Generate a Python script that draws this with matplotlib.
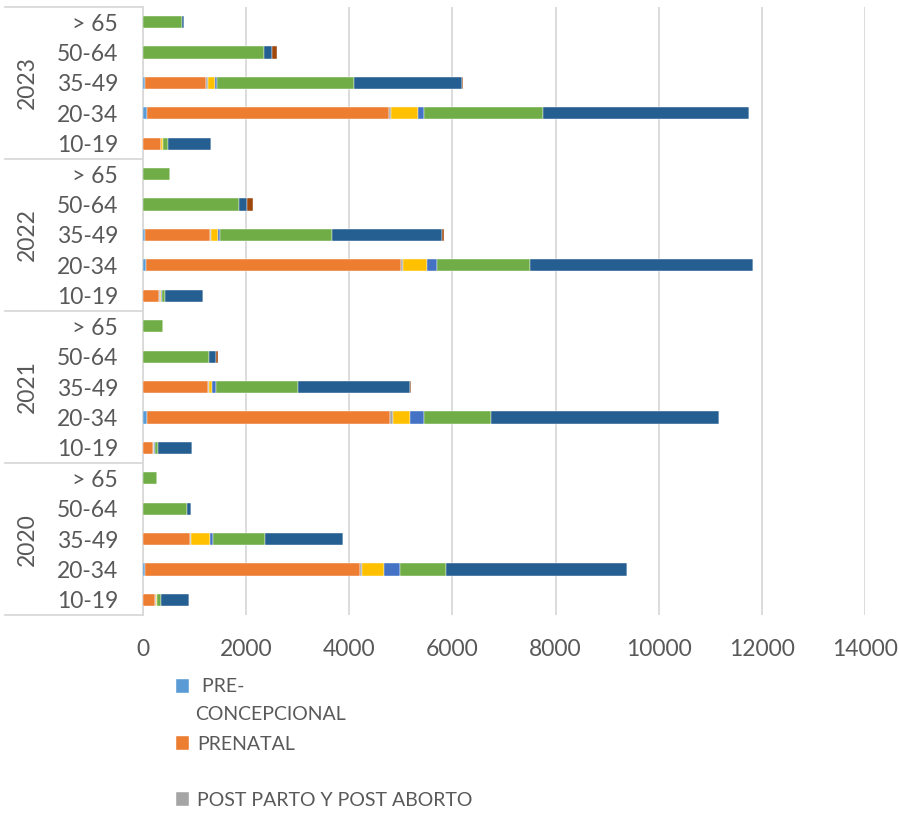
import matplotlib
matplotlib.use("Agg")
import matplotlib.pyplot as plt
import matplotlib.transforms as mtransforms
from matplotlib import font_manager
import numpy as np

# ---------------- data ----------------
years = ["2020", "2021", "2022", "2023"]
ages = ["10-19", "20-34", "35-49", "50-64", "> 65"]

series_names = ["PRE-CONCEPCIONAL", "PRENATAL", "POST PARTO Y POST ABORTO",
                "SERIE 4", "SERIE 5", "SERIE 6", "SERIE 7", "SERIE 8"]
series_colors = ["#5B9BD5", "#ED7D31", "#A5A5A5", "#FFC000",
                 "#4472C4", "#70AD47", "#255E91", "#9E480E"]

# rows: 2020(10-19..>65), 2021(...), 2022(...), 2023(...)
pre_concepcional = [0, 40, 0, 0, 0,   0, 84, 0, 0, 0,   0, 65, 30, 0, 0,   0, 84, 45, 0, 0]
prenatal         = [230, 4174, 913, 0, 0,   188, 4713, 1256, 0, 0,   305, 4932, 1278, 0, 0,   343, 4680, 1178, 0, 0]
post_parto       = [15, 33, 25, 0, 0,   20, 44, 19, 0, 0,   20, 46, 19, 0, 0,   10, 46, 33, 0, 0]
serie4           = [20, 427, 357, 0, 0,   0, 338, 71, 0, 0,   20, 459, 130, 0, 0,   29, 517, 142, 0, 0]
serie5           = [0, 303, 64, 0, 0,   19, 264, 78, 0, 0,   20, 208, 45, 0, 0,   10, 130, 39, 0, 0]
serie6           = [78, 893, 1004, 848, 272,   64, 1309, 1586, 1288, 394,   55, 1800, 2169, 1871, 530,   93, 2305, 2655, 2344, 763]
serie7           = [556, 3523, 1515, 78, 0,   654, 4420, 2175, 130, 0,   745, 4323, 2123, 142, 0,   842, 3981, 2097, 167, 37]
serie8           = [0, 0, 0, 0, 0,   0, 0, 15, 33, 0,   0, 0, 52, 117, 0,   0, 0, 19, 85, 0]

x_ticks = [0, 2000, 4000, 6000, 8000, 10000, 12000, 14000]

# ---------------- style ----------------
avail = {f.name for f in font_manager.fontManager.ttflist}
fam = "Liberation Sans Narrow" if "Liberation Sans Narrow" in avail else "Lato"
plt.rcParams["font.family"] = [fam, "DejaVu Sans"]
txt_color = "#595959"
grid_color = "#D9D9D9"
fs_axis = 16.5
fs_leg = 14

fig = plt.figure(figsize=(8.99, 8.14), dpi=100)
ax = fig.add_axes([143 / 899, 1 - 615.2 / 814, (865 - 143) / 899, (615.2 - 6.8) / 814])

all_series = [pre_concepcional, prenatal, post_parto, serie4, serie5, serie6, serie7, serie8]
n = len(years) * len(ages)
ypos = np.arange(n)
left = np.zeros(n)
containers = []
for vals, name, col in zip(all_series, series_names, series_colors):
    v = np.array(vals, dtype=float)
    c = ax.barh(ypos, v, left=left, height=0.4, color=col, label=name,
                edgecolor="white", linewidth=0.3, zorder=3)
    containers.append(c)
    left += v

ax.set_xlim(0, 14000)
ax.set_ylim(-0.5, n - 0.5)
ax.set_xticks(x_ticks)
ax.set_xticklabels([str(t) for t in x_ticks], fontsize=fs_axis, color=txt_color)
ax.tick_params(axis="x", length=0, pad=17)
ax.set_yticks(ypos)
ax.set_yticklabels(ages * len(years), fontsize=fs_axis, color=txt_color)
ax.tick_params(axis="y", length=0, pad=18)
ax.grid(axis="x", color=grid_color, linewidth=1.3, zorder=0)
for s in ["top", "right", "bottom"]:
    ax.spines[s].set_visible(False)
ax.spines["left"].set_color(grid_color)
ax.spines["left"].set_linewidth(1.3)

# grouped y-axis: year labels and separators
trans = mtransforms.blended_transform_factory(ax.transAxes, ax.transData)
x_left = (5 - 143) / 722
for i, yr in enumerate(years):
    center = i * len(ages) + (len(ages) - 1) / 2
    ax.text((27 - 143) / 722, center, yr, transform=trans, rotation=90,
            ha="center", va="center", fontsize=fs_axis, color=txt_color)
for b in np.arange(-0.5, n, len(ages)):
    ax.plot([x_left, 0], [b, b], transform=trans, color=grid_color,
            linewidth=1.3, clip_on=False)

# legend (only first three series visible, as in the reference)
def one_legend(handle, label, ypix):
    fig.legend([handle], [label], loc="center left",
               bbox_to_anchor=(166 / 899, 1 - ypix / 814), frameon=False,
               fontsize=fs_leg, handlelength=0.7, handleheight=0.7,
               handletextpad=0.4, borderpad=0, labelcolor=txt_color)

one_legend(containers[0], " PRE-", 687)
fig.text(195 / 899, 1 - 715 / 814, "CONCEPCIONAL", fontsize=fs_leg, color=txt_color,
         ha="left", va="center")
one_legend(containers[1], "PRENATAL", 744)
one_legend(containers[2], "POST PARTO Y POST ABORTO", 800)

fig.savefig("out.png", dpi=100)
